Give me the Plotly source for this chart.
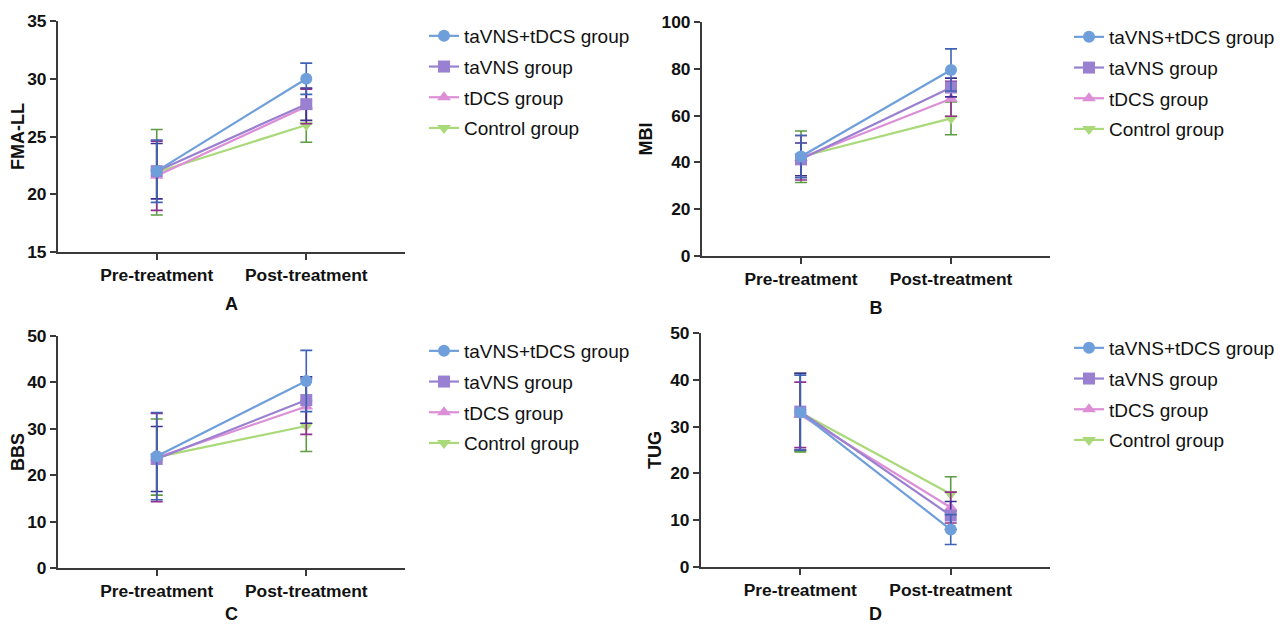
import plotly.graph_objects as go

time_points = ["Pre-treatment", "Post-treatment"]
groups = ["taVNS+tDCS group", "taVNS group", "tDCS group", "Control group"]

# FMA-LL (panel A)
fma_mean = {"taVNS+tDCS group": [22.0, 30.0], "taVNS group": [22.0, 27.8],
            "tDCS group": [21.6, 27.6], "Control group": [21.9, 26.0]}
fma_sd = {"taVNS+tDCS group": [2.7, 1.35], "taVNS group": [2.4, 1.4],
          "tDCS group": [3.0, 1.5], "Control group": [3.7, 1.5]}
# MBI (panel B)
mbi_mean = {"taVNS+tDCS group": [42.5, 79.5], "taVNS group": [41.3, 72.0],
            "tDCS group": [42.0, 67.2], "Control group": [42.4, 58.8]}
mbi_sd = {"taVNS+tDCS group": [9.0, 9.0], "taVNS group": [7.0, 4.0],
          "tDCS group": [9.5, 7.5], "Control group": [11.0, 7.0]}
# BBS (panel C)
bbs_mean = {"taVNS+tDCS group": [24.1, 40.3], "taVNS group": [23.5, 36.2],
            "tDCS group": [23.8, 34.8], "Control group": [23.9, 30.6]}
bbs_sd = {"taVNS+tDCS group": [9.4, 6.6], "taVNS group": [7.0, 5.0],
          "tDCS group": [9.5, 6.0], "Control group": [8.2, 5.5]}
# TUG (panel D)
tug_mean = {"taVNS+tDCS group": [33.0, 8.0], "taVNS group": [33.2, 11.0],
            "tDCS group": [32.5, 12.7], "Control group": [33.0, 15.6]}
tug_sd = {"taVNS+tDCS group": [8.0, 3.2], "taVNS group": [8.2, 3.0],
          "tDCS group": [7.0, 3.3], "Control group": [8.4, 3.7]}

line_colors = {"taVNS+tDCS group": "#6f9fdb", "taVNS group": "#9a80d0",
               "tDCS group": "#dc8ed6", "Control group": "#a9d978"}
err_colors = {"taVNS+tDCS group": "#3f63b4", "taVNS group": "#3b2f92",
              "tDCS group": "#93308f", "Control group": "#5c9c42"}
symbols = {"taVNS+tDCS group": "circle", "taVNS group": "square",
           "tDCS group": "triangle-up", "Control group": "triangle-down"}

# page has an 8px body margin: figure coords = page coords - 8
OFF = 8
W, H = 1288 - OFF, 624 - OFF
FONT = "Liberation Sans, Arial"
def px_x(a, b):
    return [(a - OFF) / W, (b - OFF) / W]
def px_y(top, bottom):
    return [1 - (bottom - OFF) / H, 1 - (top - OFF) / H]

# legend anchors: (text start x on page, first item centre y on page)
panels = [
    dict(mean=fma_mean, sd=fma_sd, ytitle="FMA-LL", xtitle="A", yrange=[15, 35], dtick=5,
         xd=px_x(58, 405), yd=px_y(21, 252), leg=(465, 36)),
    dict(mean=mbi_mean, sd=mbi_sd, ytitle="MBI", xtitle="B", yrange=[0, 100], dtick=20,
         xd=px_x(702, 1050), yd=px_y(22, 256), leg=(1110, 37)),
    dict(mean=bbs_mean, sd=bbs_sd, ytitle="BBS", xtitle="C", yrange=[0, 50], dtick=10,
         xd=px_x(58, 405), yd=px_y(336, 568), leg=(465, 351)),
    dict(mean=tug_mean, sd=tug_sd, ytitle="TUG", xtitle="D", yrange=[0, 50], dtick=10,
         xd=px_x(701, 1050), yd=px_y(333, 567), leg=(1110, 348)),
]

fig = go.Figure()
xpos = [0, 1]
draw_order = ["Control group", "tDCS group", "taVNS group", "taVNS+tDCS group"]
layout = {}
for i, p in enumerate(panels):
    k = "" if i == 0 else str(i + 1)
    legname = "legend" if i == 0 else f"legend{i + 1}"
    for g in draw_order:
        fig.add_trace(go.Scatter(
            x=xpos, y=p["mean"][g], mode="lines+markers", name=g,
            xaxis="x" + k, yaxis="y" + k, legend=legname,
            legendgroup=f"{i}-{g}", legendrank=groups.index(g) + 1,
            line=dict(color=line_colors[g], width=2.2),
            marker=dict(symbol=symbols[g], size=12, color=line_colors[g]),
            error_y=dict(type="data", array=p["sd"][g], visible=True,
                         color=err_colors[g], thickness=1.6, width=6),
        ))
    axis_common = dict(showline=True, linecolor="#3a3a3a", linewidth=2, ticks="outside",
                       ticklen=6, tickwidth=2, tickcolor="#3a3a3a", showgrid=False,
                       zeroline=False, automargin=False,
                       tickfont=dict(family=FONT, size=17.4, color="#111111", weight="bold"))
    layout["xaxis" + k] = dict(axis_common, domain=p["xd"], range=[-0.66, 1.66],
                               tickvals=xpos, ticktext=time_points, anchor="y" + k,
                               title=dict(text="<b>" + p["xtitle"] + "</b>", standoff=14,
                                          font=dict(family=FONT, size=18, color="#111111")))
    layout["yaxis" + k] = dict(axis_common, domain=p["yd"], range=p["yrange"], dtick=p["dtick"],
                               anchor="x" + k,
                               title=dict(text="<b>" + p["ytitle"] + "</b>", standoff=4,
                                          font=dict(family=FONT, size=18, color="#111111")))
    tx, ty = p["leg"]
    layout[legname] = dict(x=(tx - 41 - OFF) / W, y=1 - (ty - 19 - OFF) / H,
                           xanchor="left", yanchor="top",
                           bgcolor="rgba(0,0,0,0)", itemwidth=30, tracegroupgap=3,
                           traceorder="grouped",
                           font=dict(family=FONT, size=19, color="#111111"))

fig.update_layout(**layout)
fig.update_layout(width=W, height=H, margin=dict(l=0, r=0, t=0, b=0, autoexpand=False),
                  paper_bgcolor="white", plot_bgcolor="white", showlegend=True)

fig.write_html("out.html")
